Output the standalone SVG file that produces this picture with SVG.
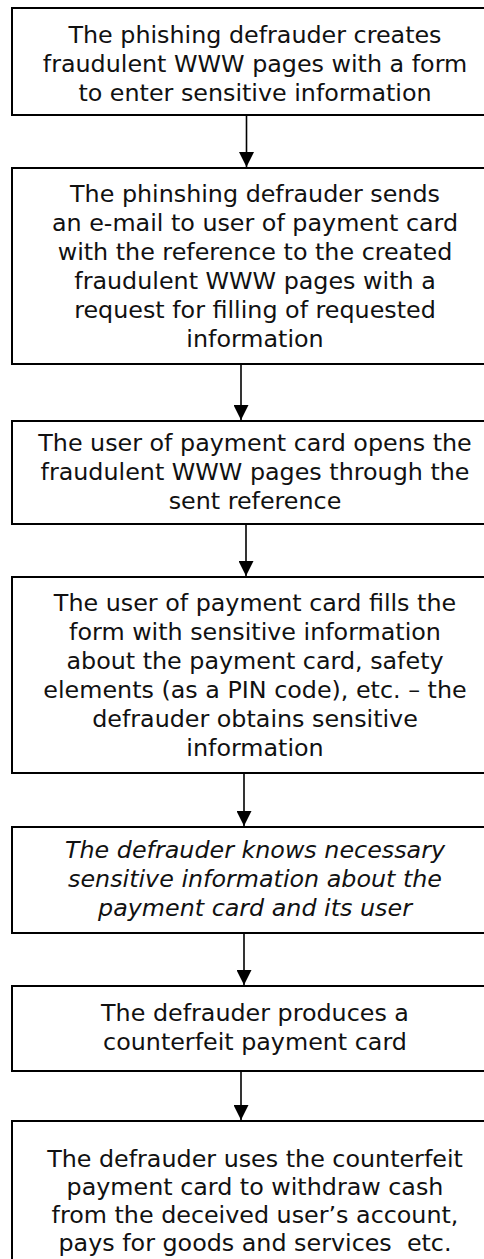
<svg xmlns="http://www.w3.org/2000/svg" width="484" height="1259" viewBox="0 0 484 1259">
<style>
.box{fill:#fff;stroke:#000;stroke-width:2}
.t{font-family:"DejaVu Sans",Verdana,sans-serif;font-size:23.8px;fill:#111;text-anchor:middle;white-space:pre}
.i{font-style:italic}
.c{stroke:#000;stroke-width:1.6;fill:none}
</style>
<defs>
<marker id="ah" markerWidth="15" markerHeight="15" refX="15" refY="7.5" orient="auto" markerUnits="userSpaceOnUse" viewBox="0 0 15 15">
<path d="M0,0 L15,7.5 L0,15 Z" fill="#000"/>
</marker>
</defs>
<rect width="484" height="1259" fill="#fff"/>
<g id="n1">
<rect class="box" x="12" y="8" width="486" height="107"/>
<text class="t" x="255" y="43">The phishing defrauder creates</text>
<text class="t" x="255" y="72">fraudulent WWW pages with a form</text>
<text class="t" x="255" y="101">to enter sensitive information</text>
</g>
<g id="n2">
<rect class="box" x="12" y="168" width="486" height="196"/>
<text class="t" x="255" y="202">The phinshing defrauder sends</text>
<text class="t" x="255" y="231">an e-mail to user of payment card</text>
<text class="t" x="255" y="260">with the reference to the created</text>
<text class="t" x="255" y="289">fraudulent WWW pages with a</text>
<text class="t" x="255" y="318">request for filling of requested</text>
<text class="t" x="255" y="347">information</text>
</g>
<g id="n3">
<rect class="box" x="12" y="421" width="486" height="103"/>
<text class="t" x="255" y="451">The user of payment card opens the</text>
<text class="t" x="255" y="480">fraudulent WWW pages through the</text>
<text class="t" x="255" y="509">sent reference</text>
</g>
<g id="n4">
<rect class="box" x="12" y="577" width="486" height="196"/>
<text class="t" x="255" y="611">The user of payment card fills the</text>
<text class="t" x="255" y="640">form with sensitive information</text>
<text class="t" x="255" y="669">about the payment card, safety</text>
<text class="t" x="255" y="698">elements (as a PIN code), etc. – the</text>
<text class="t" x="255" y="727">defrauder obtains sensitive</text>
<text class="t" x="255" y="756">information</text>
</g>
<g id="n5">
<rect class="box" x="12" y="827" width="486" height="106"/>
<text class="t i" x="255" y="858">The defrauder knows necessary</text>
<text class="t i" x="255" y="887">sensitive information about the</text>
<text class="t i" x="255" y="916">payment card and its user</text>
</g>
<g id="n6">
<rect class="box" x="12" y="986" width="486" height="85"/>
<text class="t" x="255" y="1021">The defrauder produces a</text>
<text class="t" x="255" y="1050">counterfeit payment card</text>
</g>
<g id="n7">
<rect class="box" x="12" y="1121" width="486" height="160"/>
<text class="t" x="255" y="1167">The defrauder uses the counterfeit</text>
<text class="t" x="255" y="1195">payment card to withdraw cash</text>
<text class="t" x="255" y="1223">from the deceived user’s account,</text>
<text class="t" x="255" y="1251" xml:space="preserve">pays for goods and services  etc.</text>
</g>
<g id="connectors">
<line class="c" x1="246.5" y1="115" x2="246.5" y2="167" marker-end="url(#ah)"/>
<line class="c" x1="241" y1="364" x2="241" y2="420" marker-end="url(#ah)"/>
<line class="c" x1="246" y1="524" x2="246" y2="576" marker-end="url(#ah)"/>
<line class="c" x1="244" y1="773" x2="244" y2="826" marker-end="url(#ah)"/>
<line class="c" x1="244" y1="933" x2="244" y2="985" marker-end="url(#ah)"/>
<line class="c" x1="241" y1="1071" x2="241" y2="1120" marker-end="url(#ah)"/>
</g>
</svg>
